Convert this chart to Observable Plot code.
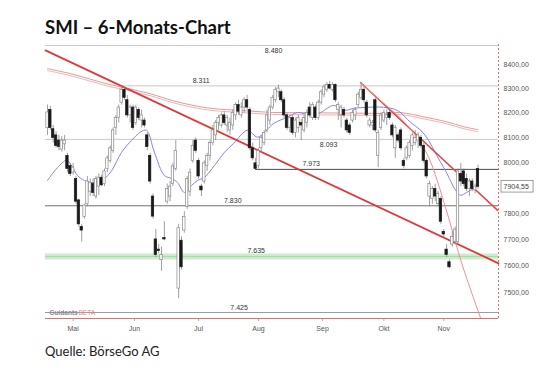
<!DOCTYPE html>
<html><head><meta charset="utf-8">
<script src="https://cdn.jsdelivr.net/npm/d3@7"></script>
<script src="https://cdn.jsdelivr.net/npm/@observablehq/plot@0.6"></script>
<style>
body{margin:0;background:#fff;}
#wrap{position:relative;width:540px;height:370px;overflow:hidden;background:#fff;}
#chart{position:absolute;left:0;top:0;}
#title{position:absolute;left:45px;top:16px;font:bold 18.5px Lato,"Open Sans",sans-serif;color:#111;white-space:nowrap;}
#caption{position:absolute;left:45px;top:343px;font:13px Lato,"Open Sans",sans-serif;color:#222;white-space:nowrap;}
</style></head><body>
<div id="wrap"><div id="chart"></div><div id="title">SMI – 6-Monats-Chart</div><div id="caption">Quelle: BörseGo AG</div></div>
<script>
// ---- Daily candles (trading-day index 0..151, mid-April to mid-November) ----
const open = [
 8139,8212,8134,8109,8088,8052,8073,8027,7986,7960,
 7935,7851,7748,7787,7836,7885,7915,7866,7905,7940,
 7915,7975,8007,8047,8139,8179,8242,8295,8252,8190,
 8222,8159,8212,8169,8169,8109,8027,7866,7700,7661,
 7621,7705,7846,7866,7915,7975,7514,7695,7734,7826,
 7885,8007,8088,8007,7905,7925,7986,8027,8078,8109,
 8159,8149,8190,8149,8129,8149,8190,8232,8190,8222,
 8252,8212,8057,7997,7986,8057,8078,8129,8169,8222,
 8252,8285,8285,8252,8190,8139,8179,8119,8139,8159,
 8129,8159,8222,8179,8222,8179,8242,8275,8295,8315,
 8295,8315,8212,8190,8212,8169,8149,8169,8190,8232,
 8262,8295,8242,8149,8149,8252,8027,8139,8169,8179,
 8200,8149,8057,8109,8129,8007,8017,8027,8067,8078,
 8088,8099,8067,8007,7866,7856,7895,7836,7856,7729,
 7661,7613,7680,7690,7690,7955,7965,7935,7895,7925,
 7890,7975];
const high = [
 8232,8227,8149,8124,8109,8104,8109,8037,7997,7997,
 7945,7856,7758,7836,7945,7935,7935,7945,7955,7950,
 7975,8027,8067,8139,8190,8232,8311,8306,8272,8232,
 8232,8232,8222,8212,8179,8119,8037,7876,7738,7681,
 7671,7768,7915,7925,7997,8088,7758,7710,7807,7945,
 7975,8088,8099,8017,7915,8007,8037,8088,8149,8169,
 8190,8200,8205,8190,8179,8212,8242,8252,8242,8262,
 8272,8222,8078,8017,8057,8109,8129,8212,8232,8272,
 8304,8315,8295,8262,8200,8190,8190,8179,8190,8174,
 8190,8212,8242,8242,8232,8252,8295,8315,8325,8330,
 8325,8320,8242,8232,8222,8179,8159,8212,8222,8285,
 8325,8305,8252,8179,8169,8262,8129,8200,8212,8212,
 8212,8159,8149,8119,8139,8017,8067,8088,8119,8129,
 8119,8109,8078,8017,7925,7905,7915,7885,7866,7738,
 7681,7622,7729,7748,7975,7997,7975,7955,7935,7935,
 7915,7990];
const low = [
 8109,8129,8077,8057,8047,8042,8047,7960,7945,7950,
 7836,7748,7690,7778,7826,7866,7866,7856,7870,7905,
 7905,7960,7997,8037,8109,8159,8232,8252,8179,8159,
 8129,8149,8169,8139,8139,8047,7915,7778,7631,7646,
 7579,7695,7836,7846,7905,7965,7476,7584,7724,7816,
 7866,7997,8037,7935,7866,7915,7965,8007,8067,8088,
 8129,8139,8149,8119,8109,8129,8169,8190,8179,8200,
 8212,8047,8007,7973,7975,8037,8067,8119,8149,8212,
 8242,8262,8242,8179,8129,8119,8109,8099,8119,8088,
 8119,8139,8179,8169,8169,8169,8232,8262,8285,8295,
 8285,8242,8169,8139,8179,8119,8109,8159,8169,8222,
 8252,8242,8179,8139,8129,8119,7980,8129,8159,8149,
 8169,8099,8017,8078,8047,7975,8007,8017,8047,8067,
 8057,8057,7997,7935,7826,7836,7846,7826,7758,7709,
 7631,7589,7670,7680,7680,7905,7905,7885,7866,7885,
 7876,7895];
const close = [
 8202,8139,8099,8067,8062,8088,8088,7975,7955,7980,
 7846,7758,7734,7831,7925,7920,7880,7935,7940,7910,
 7965,8017,8057,8129,8179,8222,8295,8262,8190,8222,
 8139,8222,8179,8190,8149,8062,7925,7788,7641,7656,
 7641,7700,7895,7905,7985,8047,7743,7594,7787,7935,
 7960,8067,8047,7945,7890,7997,8027,8078,8129,8159,
 8179,8190,8159,8179,8159,8200,8232,8205,8222,8252,
 8222,8057,8017,7975,8047,8099,8119,8190,8222,8262,
 8295,8300,8252,8190,8139,8179,8119,8169,8179,8149,
 8179,8200,8190,8232,8179,8242,8285,8305,8315,8300,
 8315,8252,8232,8222,8190,8129,8119,8200,8212,8275,
 8295,8252,8190,8169,8159,8129,8119,8190,8200,8190,
 8179,8109,8139,8088,8057,7986,8057,8078,8109,8099,
 8109,8067,8007,7945,7915,7895,7866,7876,7768,7719,
 7641,7594,7709,7738,7965,7925,7915,7895,7925,7895,
 7905,7904.55];

// ---- Moving averages ----
const blueIdx = [0,3.5,6.7,8.4,10.5,13,16.5,20,22.5,26,29.5,32.6,34.7,37.5,41,43.5,45.6,48,50.5,52.6,55,58.6,62.1,65.3,70.2,73.7,79.3,84.2,87.7,92.3,95.8,100.4,103.9,107.4,112.3,117.9,122.8,127.4,130.9,133.7,136.1,139.6,143.2,144.9,147,151.2];
const blueVal = [7929,7980,8009,7989,7949,7929,7921,7937,7968,8041,8089,8122,8130,8041,7949,7937,7921,7882,7909,7929,7941,7989,8041,8077,8130,8102,8157,8183,8202,8191,8202,8231,8210,8219,8223,8223,8210,8161,8130,8089,8037,7968,7890,7871,7882,7909];
const redIdx = [0,9,21,28,36,44,51,58,68,79,89,99,110,117,124,132,140,146,151];
const redVal = [8383,8359,8319,8301,8279,8250,8231,8218,8210,8202,8201,8200,8199,8198,8201,8184,8164,8144,8132];

// ---- Trend lines ----
const trendAIdx = [-0.7, 158.2], trendAVal = [8459, 7609];
const trendBIdx = [109.8, 157.9], trendBVal = [8325, 7812];
const curveIdx = [109.8,117.2,123.9,129.1,133.7,139.6,145.3,151.9];
const curveVal = [8325,8247,8178,8109,8021,7824,7609,7405];

// ---- Horizontal levels ----
const levelVal   = [8480, 8311, 8093, 7973, 7830, 7635, 7425];
const levelStart = [-0.7, 26, -0.7, 73, -0.7, -0.7, -0.7];
const levelText  = ["8.480","8.311","8.093","7.973","7.830","7.635","7.425"];
const levelLblX  = [79.3, 53.9, 98.6, 92.5, 65, 73.2, 67.2];
const levelBelow = [true, false, true, false, false, false, false];
const levelColor = ["#c8c8c8","#c8c8c8","#c8c8c8","#4a4a4a","#707070","#a8d8a8","#9a9a9a"];

// ---- Axes ----
const yTicks = [8400,8300,8200,8100,8000,7800,7700,7600,7500];
const lastPrice = 7904.55;
const monthIdx = [9, 30.5, 53, 74, 96.5, 118, 139];
const monthLabels = ["Mai","Jun","Jul","Aug","Sep","Okt","Nov"];

const xMin = -0.7, xMax = 158.2, yMin = 7403, yMax = 8484;
const fmt = v => v.toFixed(2).replace(".", ",");

const candles = open.map((o, i) => ({i, o, h: high[i], l: low[i], c: close[i]}));
const blue = blueIdx.map((x, k) => ({x, y: blueVal[k]}));
const red = redIdx.map((x, k) => ({x, y: redVal[k]}));
const trendA = trendAIdx.map((x, k) => ({x, y: trendAVal[k]}));
const trendB = trendBIdx.map((x, k) => ({x, y: trendBVal[k]}));
const curveC = curveIdx.map((x, k) => ({x, y: curveVal[k]}));
const levels = levelVal.map((y, k) => ({y, x1: levelStart[k], text: levelText[k], lx: levelLblX[k], below: levelBelow[k], color: levelColor[k]}));

const chart = Plot.plot({
  width: 540, height: 370,
  marginTop: 44, marginBottom: 52, marginLeft: 45, marginRight: 42,
  x: {domain: [xMin, xMax], axis: null},
  y: {type: "log", domain: [yMin, yMax], axis: null},
  style: {fontFamily: "'Liberation Sans', Arial, sans-serif", fontSize: "7px", background: "transparent", overflow: "visible"},
  marks: [
    // green support band
    Plot.ruleY([7635], {y: d => d, x1: xMin, x2: xMax, stroke: "#cdeccd", strokeWidth: 6}),
    Plot.ruleY(levels, {y: "y", x1: "x1", x2: xMax, stroke: "color", strokeWidth: 1}),
    // moving averages
    Plot.line(red, {x: "x", y: "y", stroke: "#e48a8a", strokeWidth: 0.9, curve: "catmull-rom"}),
    Plot.line(red, {x: "x", y: "y", dy: 2, stroke: "#eaa0a0", strokeWidth: 0.8, curve: "catmull-rom"}),
    Plot.line(blue, {x: "x", y: "y", stroke: "#8585e6", strokeWidth: 1, curve: "catmull-rom"}),
    // trend lines
    Plot.line(trendA, {x: "x", y: "y", stroke: "#e03838", strokeWidth: 1.8}),
    Plot.line(trendB, {x: "x", y: "y", stroke: "#e04848", strokeWidth: 1.5}),
    Plot.line(curveC, {x: "x", y: "y", stroke: "#f09090", strokeWidth: 1, curve: "catmull-rom"}),
    // candles
    Plot.ruleX(candles, {x: "i", y1: "l", y2: "h", stroke: "#888", strokeWidth: 0.8}),
    Plot.rect(candles, {
      x1: d => d.i - 0.42, x2: d => d.i + 0.42,
      y1: d => Math.min(d.o, d.c), y2: d => Math.max(d.o, d.c),
      fill: d => d.c >= d.o ? "#ffffff" : "#1a1a1a",
      stroke: d => d.c >= d.o ? "#8a8a8a" : "#1a1a1a", strokeWidth: 0.7
    }),
    // level labels
    Plot.text(levels.filter(d => !d.below), {x: "lx", y: "y", text: "text", lineAnchor: "bottom", dy: -3, fill: "#333", fontSize: 7}),
    Plot.text(levels.filter(d => d.below), {x: "lx", y: "y", text: "text", lineAnchor: "top", dy: 3, fill: "#333", fontSize: 7}),
    // frame: bottom red line and right dashed red axis
    Plot.ruleY([yMin], {y: d => d, x1: xMin, x2: xMax, stroke: "#e07070", strokeWidth: 1}),
    Plot.ruleX([xMax], {x: d => d, y1: yMin, y2: yMax, stroke: "#e07070", strokeWidth: 1, strokeDasharray: "2,2"}),
    // y tick labels
    Plot.text(yTicks, {x: xMax, y: d => d, text: fmt, dx: 5, textAnchor: "start", fill: "#555", fontSize: 7}),
    Plot.rect([lastPrice], {x1: xMax + 1.05, x2: xMax + 12.3, y1: d => d - 23, y2: d => d + 23, fill: "#fff", stroke: "#888", strokeWidth: 0.8}),
    Plot.text([lastPrice], {x: xMax, y: d => d, text: fmt, dx: 5, textAnchor: "start", fill: "#444", fontSize: 7}),
    // month ticks and labels
    Plot.ruleX(monthIdx, {x: d => d, y1: yMin, y2: yMin * 0.9985, stroke: "#999", strokeWidth: 0.8}),
    Plot.text(monthIdx, {x: d => d, y: yMin, text: (d, i) => monthLabels[i], dy: 10, fill: "#555", fontSize: 7}),
    // logo
    Plot.text(["Guidants"], {frameAnchor: "bottom-left", dx: 4, dy: -4, text: d => d, textAnchor: "start", fill: "#888", fontWeight: "bold", fontSize: 6.5}),
    Plot.text(["BETA"], {frameAnchor: "bottom-left", dx: 33, dy: -4, text: d => d, textAnchor: "start", fill: "#e88888", fontSize: 6.5})
  ]
});
document.getElementById("chart").appendChild(chart);
</script>
</body></html>
